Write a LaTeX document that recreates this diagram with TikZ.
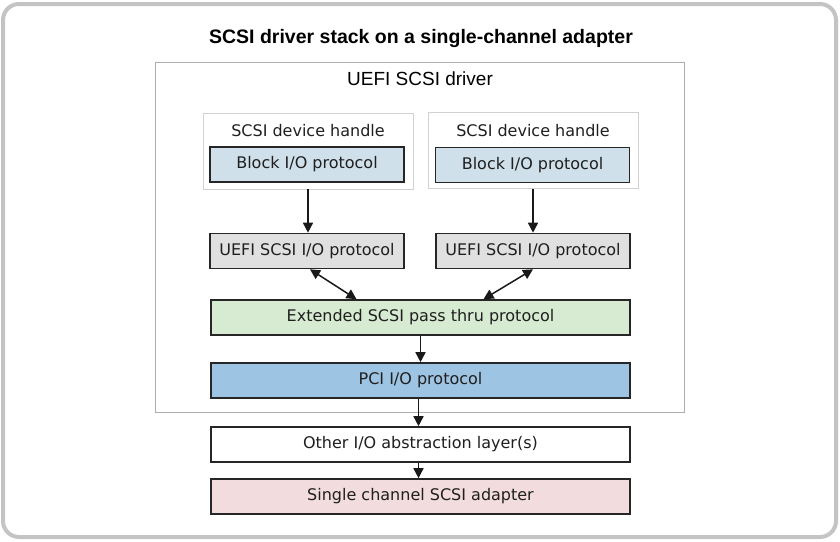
\documentclass[tikz,border=0pt]{standalone}
\usepackage{fontspec}
\setmainfont{DejaVu Sans}
\newfontfamily\headfont{Liberation Sans}
\usetikzlibrary{positioning,arrows.meta}

\definecolor{blockblue}{HTML}{CFE0EA}
\definecolor{iogray}{HTML}{E0E0E0}
\definecolor{passgreen}{HTML}{D6EBD1}
\definecolor{pciblue}{HTML}{9EC4E3}
\definecolor{adapterpink}{HTML}{F2DCDD}
\definecolor{framegray}{HTML}{C4C4C4}

\begin{document}
\begin{tikzpicture}
	[x=1pt,y=-1pt,
	proto/.style={rectangle,draw=black!85,line width=1.6pt,inner sep=0pt,minimum height=35pt,text=black!88,font=\fontsize{16}{19}\selectfont},
	narrow/.style={proto,minimum width=194pt},
	wide/.style={proto,minimum width=419pt},
	handle/.style={rectangle,draw=black!18,line width=0.8pt,inner sep=0pt,minimum width=210pt,minimum height=76pt},
	link/.style={line width=1.5pt,draw=black!90,-{Triangle[length=10pt,width=10pt]}},
	twoway/.style={link,{Triangle[length=10pt,width=10pt]}-{Triangle[length=10pt,width=10pt]}}]
	\useasboundingbox (0,0) rectangle (840,541);
	\draw [framegray,line width=4pt,rounded corners=16pt] (3,4) rectangle (836,537);

	\node (title) at (421,38) {\headfont\fontsize{19.5}{23}\selectfont\bfseries SCSI driver stack on a single-channel adapter};
	\node [draw=black!32,line width=0.8pt,inner sep=0pt,minimum width=529pt,minimum height=350pt] (driver) at (419.5,237) {};
	\node (drvlabel) at (420,79) {\headfont\fontsize{19}{22}\selectfont UEFI SCSI driver};

	\node [handle] (hL) at (308,151) {};
	\node [handle] (hR) at (533,150.5) {};
	\node [text=black!88,font=\fontsize{16}{19}\selectfont] (hLlabel) at (308,130.5) {SCSI device handle};
	\node [text=black!88,font=\fontsize{16}{19}\selectfont] (hRlabel) at (533,130.5) {SCSI device handle};
	\node [narrow,fill=blockblue] (bL) at (307,164.5) {Block I/O protocol};
	\node [narrow,fill=blockblue] (bR) at (532.5,165) {Block I/O protocol};

	\node [narrow,fill=iogray] (sL) at (307,251) {UEFI SCSI I/O protocol};
	\node [narrow,fill=iogray] (sR) at (533,251) {UEFI SCSI I/O protocol};

	\node [wide,fill=passgreen] (ext) at (420.5,317.5) {Extended SCSI pass thru protocol};
	\node [wide,fill=pciblue] (pci) [below=26.4pt of ext] {PCI I/O protocol};
	\node [wide,fill=white] (other) [below=27.4pt of pci] {Other I/O abstraction layer(s)};
	\node [wide,fill=adapterpink] (adapter) [below=15.4pt of other] {Single channel SCSI adapter};

	\draw [link] (hL.south) -- (hL.south |- sL.north);
	\draw [link] (hR.south) -- (hR.south |- sR.north);
	\draw [twoway] ([xshift=3pt]sL.south) -- ([xshift=-64pt]ext.north);
	\draw [twoway] (sR.south) -- ([xshift=63pt]ext.north);
	\draw [link] (ext) -- (pci);
	\draw [link] ([xshift=-2pt]pci.south) -- ([xshift=-2pt]other.north);
	\draw [link] ([xshift=-2pt]other.south) -- ([xshift=-2pt]adapter.north);

\end{tikzpicture}
\end{document}
